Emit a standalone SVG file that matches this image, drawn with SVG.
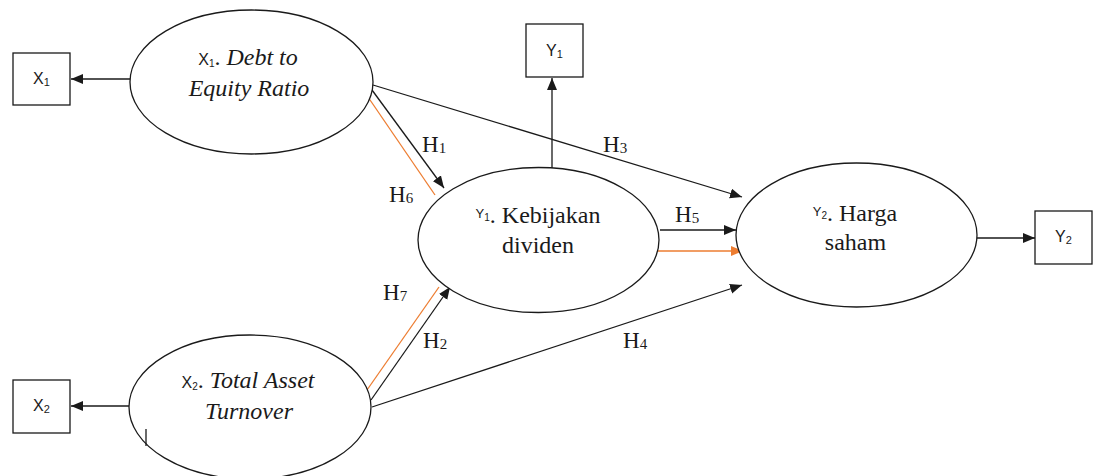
<svg xmlns="http://www.w3.org/2000/svg" width="1098" height="476" viewBox="0 0 1098 476">
  <style>
    .node ellipse, .node rect { fill: #ffffff; stroke: #1a1a1a; stroke-width: 1.3; }
    .box-label { font-family: "Liberation Sans", Arial, sans-serif; font-size: 16px; fill: #1a1a1a; }
    .hlabel { font-family: "Liberation Serif", "Times New Roman", serif; font-size: 23px; fill: #1a1a1a; }
    .edge { fill: none; stroke: #1a1a1a; stroke-width: 1.3; }
    .edge-orange { fill: none; stroke: #ed7d31; stroke-width: 1.3; }
  </style>
  <defs>
    <marker id="arrow" markerUnits="userSpaceOnUse" markerWidth="13" markerHeight="11" refX="12" refY="5" orient="auto">
      <path d="M0,0 L12,5 L0,10 z" fill="#1a1a1a"/>
    </marker>
    <marker id="arrow-orange" markerUnits="userSpaceOnUse" markerWidth="13" markerHeight="11" refX="12" refY="5" orient="auto">
      <path d="M0,0 L12,5 L0,10 z" fill="#ed7d31"/>
    </marker>
  </defs>

  <rect width="1098" height="476" fill="#ffffff"/>

  <!-- connectors -->
  <g id="connectors">
    <!-- latent to indicator -->
    <line class="edge" x1="130" y1="79" x2="71" y2="79" marker-end="url(#arrow)"/>
    <line class="edge" x1="129" y1="406" x2="71" y2="406" marker-end="url(#arrow)"/>
    <line class="edge" x1="552" y1="168" x2="552" y2="78" marker-end="url(#arrow)"/>
    <line class="edge" x1="977" y1="238" x2="1035" y2="238" marker-end="url(#arrow)"/>
    <!-- H1, H6 -->
    <line class="edge" x1="372" y1="90" x2="444" y2="188" marker-end="url(#arrow)"/>
    <line class="edge-orange" x1="368" y1="97" x2="435" y2="195"/>
    <!-- H3 -->
    <line class="edge" x1="373" y1="85" x2="742" y2="197" marker-end="url(#arrow)"/>
    <!-- H2, H7 -->
    <line class="edge" x1="371" y1="400" x2="450" y2="287" marker-end="url(#arrow)"/>
    <line class="edge-orange" x1="367" y1="390" x2="439" y2="287"/>
    <!-- H4 -->
    <line class="edge" x1="372" y1="407" x2="742" y2="285" marker-end="url(#arrow)"/>
    <!-- H5 -->
    <line class="edge" x1="660" y1="230" x2="736" y2="230" marker-end="url(#arrow)"/>
    <line class="edge-orange" x1="655" y1="251" x2="743" y2="251" marker-end="url(#arrow-orange)"/>

    <!-- path labels -->
    <text class="hlabel" x="422" y="152">H<tspan font-size="15" dy="1">1</tspan></text>
    <text class="hlabel" x="389" y="202">H<tspan font-size="15" dy="1">6</tspan></text>
    <text class="hlabel" x="603" y="152">H<tspan font-size="15" dy="1">3</tspan></text>
    <text class="hlabel" x="675" y="222">H<tspan font-size="15" dy="1">5</tspan></text>
    <text class="hlabel" x="383" y="300">H<tspan font-size="15" dy="1">7</tspan></text>
    <text class="hlabel" x="423" y="348">H<tspan font-size="15" dy="1">2</tspan></text>
    <text class="hlabel" x="623" y="348">H<tspan font-size="15" dy="1">4</tspan></text>
  </g>

  <!-- indicator boxes -->
  <g id="box-x1" class="node">
    <rect x="13" y="53" width="57" height="52"/>
    <text class="box-label" x="41.5" y="84" text-anchor="middle">X<tspan font-size="11" dy="2">1</tspan></text>
  </g>
  <g id="box-x2" class="node">
    <rect x="13" y="380" width="57" height="53"/>
    <text class="box-label" x="41.5" y="411" text-anchor="middle">X<tspan font-size="11" dy="2">2</tspan></text>
  </g>
  <g id="box-y1" class="node">
    <rect x="526" y="24" width="57" height="53"/>
    <text class="box-label" x="554.5" y="56" text-anchor="middle">Y<tspan font-size="11" dy="2">1</tspan></text>
  </g>
  <g id="box-y2" class="node">
    <rect x="1035" y="211" width="57" height="53"/>
    <text class="box-label" x="1063.5" y="242" text-anchor="middle">Y<tspan font-size="11" dy="2">2</tspan></text>
  </g>

  <!-- latent constructs: Times-style names, sans variable codes -->
  <g id="x1-der" class="node" font-family="'Liberation Serif', 'Times New Roman', serif" font-size="24" fill="#1a1a1a">
    <ellipse cx="251.5" cy="82" rx="121.5" ry="72"/>
    <text x="248" y="65" text-anchor="middle"><tspan font-family="'Liberation Sans', Arial, sans-serif" font-size="16">X</tspan><tspan font-family="'Liberation Sans', Arial, sans-serif" font-size="10" dy="2">1</tspan><tspan dy="-2">. </tspan><tspan font-style="italic">Debt to</tspan></text>
    <text x="249" y="96" text-anchor="middle" font-style="italic">Equity Ratio</text>
  </g>

  <g id="x2-tato" class="node" font-family="'Liberation Serif', 'Times New Roman', serif" font-size="24" fill="#1a1a1a">
    <ellipse cx="250" cy="407" rx="121" ry="72"/>
    <text x="248" y="388" text-anchor="middle"><tspan font-family="'Liberation Sans', Arial, sans-serif" font-size="16">X</tspan><tspan font-family="'Liberation Sans', Arial, sans-serif" font-size="10" dy="2">2</tspan><tspan dy="-2">. </tspan><tspan font-style="italic">Total Asset</tspan></text>
    <text x="249" y="419" text-anchor="middle" font-style="italic">Turnover</text>
    <line x1="146" y1="429" x2="146" y2="446" stroke="#1a1a1a" stroke-width="1.3"/>
  </g>

  <g id="y1-dividen" class="node" font-family="'Liberation Serif', 'Times New Roman', serif" font-size="24" fill="#1a1a1a">
    <ellipse cx="538.5" cy="240" rx="120.5" ry="72.5"/>
    <text x="538" y="223" text-anchor="middle"><tspan font-family="'Liberation Sans', Arial, sans-serif" font-size="13" dy="-5">Y</tspan><tspan font-family="'Liberation Sans', Arial, sans-serif" font-size="10" dy="3">1</tspan><tspan dy="2">. Kebijakan</tspan></text>
    <text x="538" y="253" text-anchor="middle">dividen</text>
  </g>

  <g id="y2-harga" class="node" font-family="'Liberation Serif', 'Times New Roman', serif" font-size="24" fill="#1a1a1a">
    <ellipse cx="856.5" cy="235" rx="120.5" ry="72"/>
    <text x="855" y="221" text-anchor="middle"><tspan font-family="'Liberation Sans', Arial, sans-serif" font-size="13" dy="-5">Y</tspan><tspan font-family="'Liberation Sans', Arial, sans-serif" font-size="10" dy="3">2</tspan><tspan dy="2">. Harga</tspan></text>
    <text x="855.5" y="250" text-anchor="middle">saham</text>
  </g>
</svg>
